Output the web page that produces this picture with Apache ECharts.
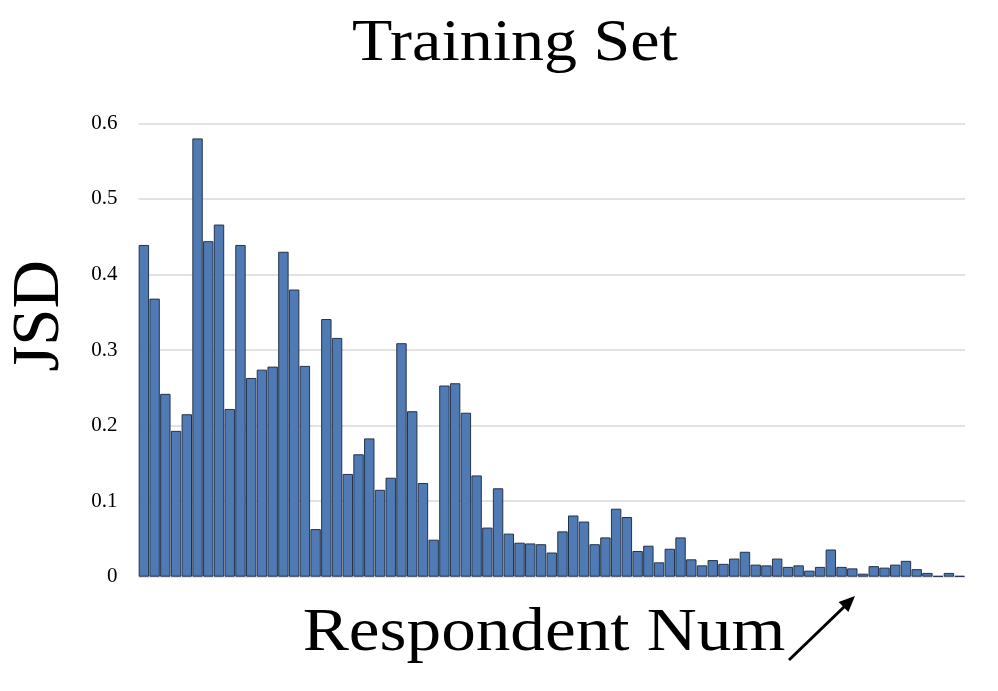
<!DOCTYPE html>
<html>
<head>
<meta charset="utf-8">
<script src="https://cdn.jsdelivr.net/npm/echarts@6/dist/echarts.min.js"></script>
<style>
html,body{margin:0;padding:0;background:#fff;}
#chart{width:998px;height:691px;}
</style>
</head>
<body>
<div id="chart"></div>
<script>
const categories = Array.from({length: 77}, (_, i) => String(i + 1));
const jsdValues = [
  0.439, 0.368, 0.242, 0.193, 0.215, 0.580, 0.444, 0.466, 0.222, 0.439,
  0.263, 0.274, 0.278, 0.430, 0.380, 0.279, 0.063, 0.341, 0.316, 0.136,
  0.162, 0.183, 0.115, 0.131, 0.309, 0.219, 0.124, 0.049, 0.253, 0.256,
  0.217, 0.134, 0.065, 0.117, 0.057, 0.045, 0.044, 0.043, 0.032, 0.060,
  0.081, 0.073, 0.043, 0.052, 0.090, 0.079, 0.034, 0.041, 0.019, 0.037,
  0.052, 0.023, 0.015, 0.022, 0.017, 0.024, 0.033, 0.016, 0.015, 0.024,
  0.013, 0.015, 0.008, 0.013, 0.036, 0.013, 0.011, 0.004, 0.014, 0.012,
  0.016, 0.021, 0.010, 0.005, 0.001, 0.005, 0.001
];
const yTicks = [0, 0.1, 0.2, 0.3, 0.4, 0.5, 0.6];
const titleText = 'Training Set';
const xAxisTitle = 'Respondent Num';
const yAxisTitle = 'JSD';

const serif = '"Liberation Serif", "Times New Roman", serif';
const chart = echarts.init(document.getElementById('chart'), null, {renderer: 'canvas'});
chart.setOption({
  animation: false,
  backgroundColor: '#ffffff',
  grid: {left: 138.5, right: 33, top: 123.3, bottom: 114.3, containLabel: false, outerBoundsMode: 'none'},
  xAxis: {
    type: 'category',
    data: categories,
    axisLine: {show: false},
    axisTick: {show: false},
    axisLabel: {show: false},
    splitLine: {show: false}
  },
  yAxis: {
    type: 'value',
    min: yTicks[0],
    max: yTicks[yTicks.length - 1],
    interval: 0.1,
    axisLine: {show: false},
    axisTick: {show: false},
    axisLabel: {
      fontFamily: serif, fontSize: 21, color: '#000', margin: 21,
      formatter: v => (v === 0 ? '0' : v.toFixed(1))
    },
    splitLine: {lineStyle: {color: '#d9d9d9', width: 1.6}}
  },
  series: [{
    type: 'bar',
    data: jsdValues,
    barCategoryGap: '3%',
    itemStyle: {color: '#4f7ab3', borderColor: '#25334a', borderWidth: 1}
  }],
  graphic: [
    {
      type: 'text',
      x: 515,
      y: 44,
      scaleX: 1.1,
      style: {
        text: titleText,
        font: '60px ' + serif,
        fill: '#000',
        textAlign: 'center',
        textVerticalAlign: 'middle'
      }
    },
    {
      type: 'text',
      x: 40,
      y: 316,
      rotation: Math.PI / 2,
      style: {
        text: yAxisTitle,
        font: '67px ' + serif,
        fill: '#000',
        textAlign: 'center',
        textVerticalAlign: 'middle'
      }
    },
    {
      type: 'text',
      x: 544,
      y: 634,
      scaleX: 1.135,
      style: {
        text: xAxisTitle,
        font: '61px ' + serif,
        fill: '#000',
        textAlign: 'center',
        textVerticalAlign: 'middle'
      }
    },
    {
      type: 'line',
      shape: {x1: 789, y1: 660, x2: 845, y2: 606},
      style: {stroke: '#000', lineWidth: 3}
    },
    {
      type: 'polygon',
      shape: {points: [[855, 596], [848.4, 612.1], [838.6, 602.1]]},
      style: {fill: '#000'}
    }
  ]
});
</script>
</body>
</html>
